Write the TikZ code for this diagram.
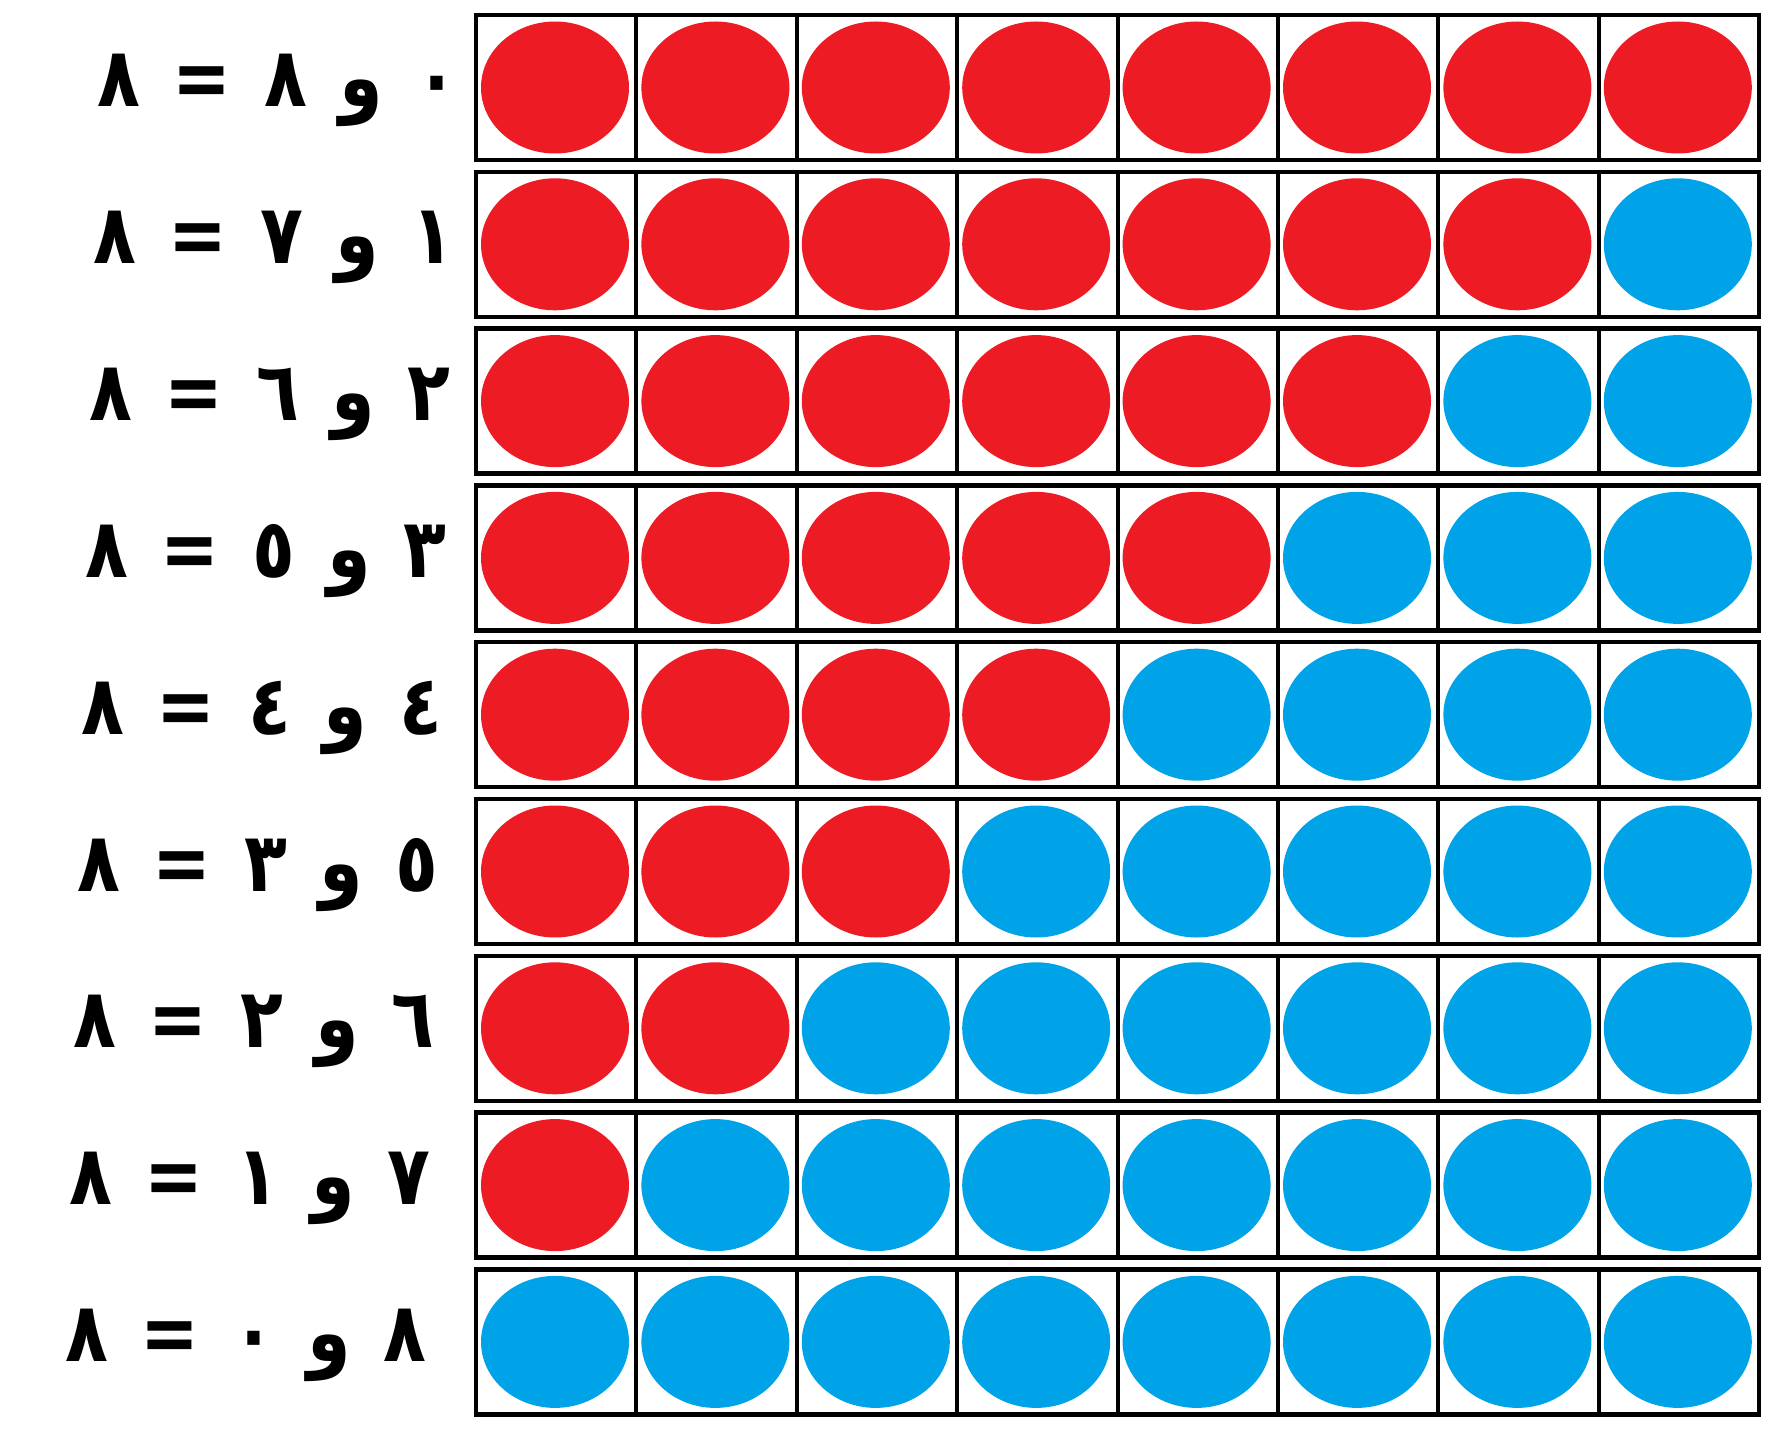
\documentclass[tikz,border=0pt]{standalone}
\usepackage{fontspec}
\usepackage{tikz}
\TeXXeTstate=1
\newfontfamily\arabicfont[Script=Arabic,FakeStretch=0.85]{DejaVu Sans}
\definecolor{tfred}{HTML}{ED1C24}
\definecolor{tfblue}{HTML}{00A2E8}
\tikzset{
  rowframe/.style={draw=black,line width=0.9mm},
  divider/.style={draw=black,line width=0.8mm},
  reddot/.style={fill=tfred},
  bluedot/.style={fill=tfblue},
  eqn/.style={anchor=base east,inner sep=0pt,font=\arabicfont\bfseries\fontsize{47}{56}\selectfont},
}
\newcommand{\gap}{\hspace{6.5mm}}

\begin{document}
\begin{tikzpicture}[x=0.2mm,y=-0.2mm]
  \useasboundingbox (0,0) rectangle (1790,1434);
  \foreach \r/\a/\b in {0/٠/٨,1/١/٧,2/٢/٦,3/٣/٥,4/٤/٤,5/٥/٣,6/٦/٢,7/٧/١,8/٨/٠}{
    \pgfmathsetmacro{\rowtop}{15+156.8*\r}
    \pgfmathtruncatemacro{\nred}{8-\r}
    \foreach \c in {0,...,7}{
      \pgfmathsetmacro{\cx}{476+160.4*\c+79}
      \ifnum\c<\nred
        \fill[reddot] (\cx,\rowtop+72.5) ellipse [x radius=74,y radius=66];
      \else
        \fill[bluedot] (\cx,\rowtop+72.5) ellipse [x radius=74,y radius=66];
      \fi
    }
    \foreach \c in {1,...,7}
      \draw[divider] (476+160.4*\c,\rowtop) -- (476+160.4*\c,\rowtop+145);
    \draw[rowframe] (476,\rowtop) rectangle (1759,\rowtop+145);
    \node[eqn] (lbl\r) at (459-4*\r,\rowtop+92)
      {\beginR\a\gap و\gap\b\gap =\gap ٨\endR};
  }
\end{tikzpicture}
\end{document}
